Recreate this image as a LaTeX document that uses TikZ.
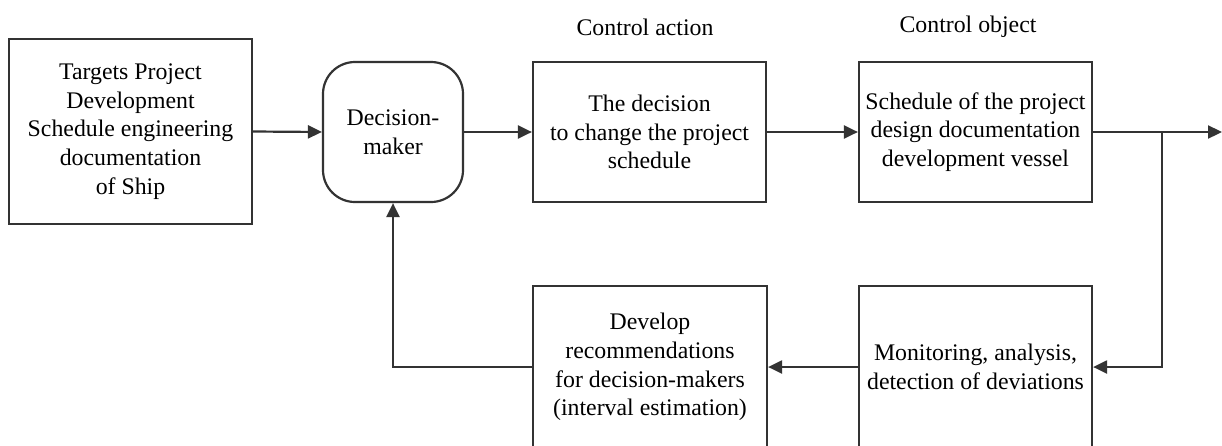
\documentclass[tikz,border=0pt]{standalone}
\usepackage{fontspec}
\setmainfont{Liberation Serif}
\newfontfamily\tnrfont{Liberation Serif}
\usetikzlibrary{arrows.meta}
\begin{document}
\begin{tikzpicture}[x=1pt,y=-1pt,
  every node/.style={font=\tnrfont\fontsize{23.8}{28.7}\selectfont, text=black},
  box/.style={draw=black!80, line width=2.2pt, align=center, inner sep=0pt, fill=white},
  rbox/.style={box, rounded corners=32pt},
  lbl/.style={inner sep=0pt},
  conn/.style={draw=black!80, line width=2.2pt},
  arr/.style={conn, -{Triangle[length=14pt,width=13pt]}}
]
\useasboundingbox (0,0) rectangle (1222,445);
\clip (0,0) rectangle (1222,445);
\node[box, minimum width=243pt, minimum height=185pt] (t) at (130.5,131.5)
  {Targets Project\\Development\\Schedule engineering\\documentation\\of Ship};
\node[rbox, minimum width=140pt, minimum height=140pt] (dm) at (393,132)
  {Decision-\\maker};
\node[box, minimum width=233pt, minimum height=140pt] (dec) at (649.5,132)
  {The decision\\to change the project\\schedule};
\node[box, minimum width=233pt, minimum height=140pt] (sch) at (975.5,132)
  {Schedule of the project\\design documentation\\development vessel};
\node[box, minimum width=234pt, minimum height=162pt] (dev) at (650,367)
  {Develop\\recommendations\\for decision-makers\\(interval estimation)};
\node[box, minimum width=233pt, minimum height=162pt] (mon) at (975.5,367)
  {Monitoring, analysis,\\detection of deviations};
\node[lbl] (ca) at (645,27) {Control action};
\node[lbl] (co) at (968,27) {Control object};
\coordinate (out) at (1222,132);
\coordinate (jn) at (1162,132);
\coordinate (jd) at (1162,367);
\coordinate (fb) at (393,367);
\draw[arr] (t.east) -- (dm.west);
\draw[arr] (dm.east) -- (dec.west);
\draw[arr] (dec.east) -- (sch.west);
\draw[arr] (sch.east) -- (out);
\draw[arr] (jn) -- (jd) -- (mon.east);
\draw[arr] (mon.west) -- (dev.east);
\draw[arr] (dev.west) -- (fb) -- (dm.south);
\end{tikzpicture}
\end{document}
